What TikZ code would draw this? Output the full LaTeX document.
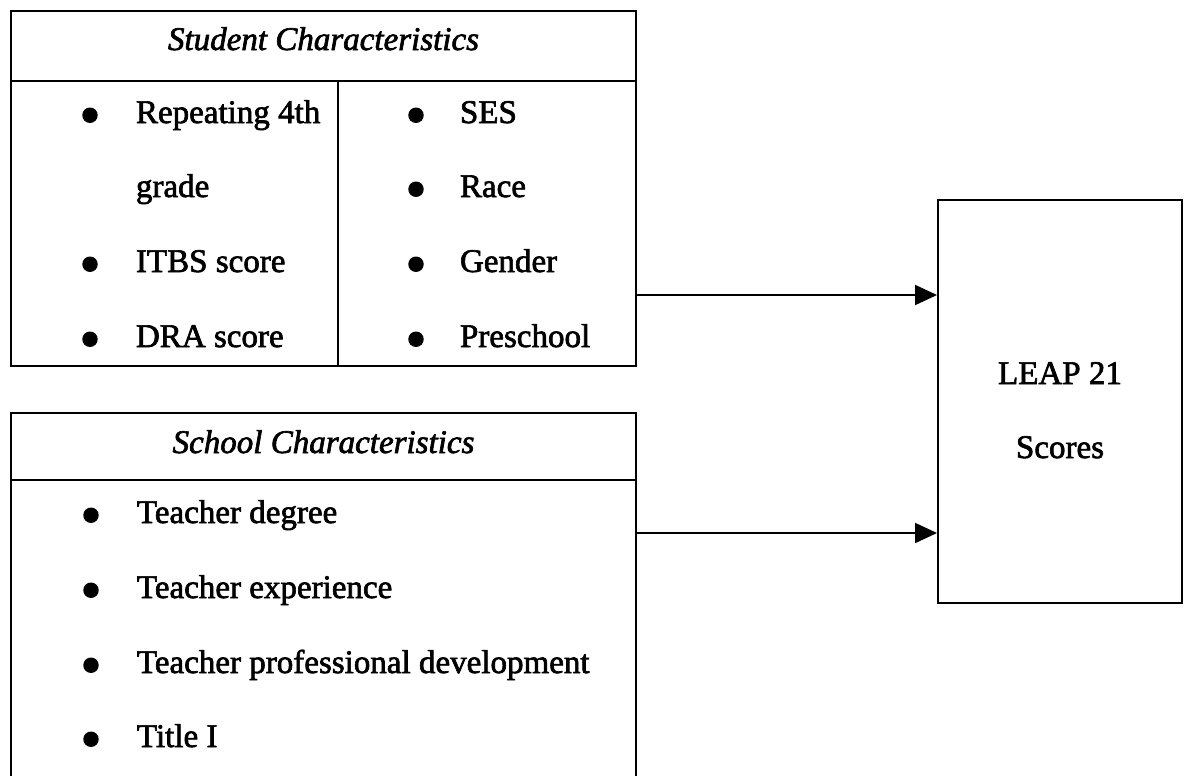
\documentclass[tikz,border=0pt]{standalone}
\usepackage{fontspec}
\setmainfont{Liberation Serif}[FakeBold=2]
\usetikzlibrary{arrows.meta,fit}
\tikzset{
  frame/.style={draw, line width=1.1pt, inner sep=0pt},
  item/.style={anchor=base west, inner sep=0pt},
  dot/.style={anchor=base, inner sep=0pt, font=\fontsize{34}{34}\selectfont},
  head/.style={anchor=base, inner sep=0pt, font=\fontsize{18.8}{22}\selectfont\itshape},
  flow/.style={line width=1.1pt, -{Triangle[length=0.44cm,width=0.4cm]}}
}
\begin{document}
\begin{tikzpicture}[x=0.02cm, y=-0.02cm, font=\fontsize{18.8}{22}\selectfont, line join=miter, line width=1.1pt]
\clip (0,0) rectangle (1184,775);
\path
(11,11) coordinate (S1)
(636,366) coordinate (S2)
(11,413) coordinate (T1)
(636,800) coordinate (T2)
(938,200) coordinate (L1)
(1182,603) coordinate (L2)
;
\node[frame, fit=(S1)(S2)] (student) {};
\node[frame, fit=(T1)(T2)] (school) {};
\node[frame, fit=(L1)(L2)] (leap) {};
\draw (student.west |- 0,81) -- (student.east |- 0,81) (338,81) -- (student.south -| 338,0);
\draw (school.west |- 0,480) -- (school.east |- 0,480);

\node[head] (sthead) at (323.5,50) {Student Characteristics};
\node[head] (schead) at (323.5,453) {School Characteristics};

\foreach \y in {123, 272, 347}
  \node[dot] at (90,\y+12) {\textbullet};
\node[item] (rep) at (135,123) {Repeating 4th};
\node[item] (grade) at (135,197) {grade};
\node[item] (itbs) at (135,272) {ITBS score};
\node[item] (dra) at (135,347) {DRA score};

\foreach \y/\t [count=\i] in {123/SES, 197/Race, 272/Gender, 347/Preschool}{
  \node[dot] at (416,\y+12) {\textbullet};
  \node[item] (bg\i) at (459,\y) {\t};
}

\foreach \y/\t [count=\i] in {523/Teacher degree, 598/Teacher experience, 673/Teacher professional development, 747/Title I}{
  \node[dot] at (91,\y+12) {\textbullet};
  \node[item] (sc\i) at (136,\y) {\t};
}

\node[anchor=base, inner sep=0pt] (leap1) at (1060,384) {LEAP 21};
\node[anchor=base, inner sep=0pt] (leap2) at (1060,458) {Scores};

\coordinate (a1) at (student.east |- 0,295);
\coordinate (a2) at (school.east |- 0,533);
\draw[flow] (a1) -- (a1 -| leap.west);
\draw[flow] (a2) -- (a2 -| leap.west);
\end{tikzpicture}
\end{document}
